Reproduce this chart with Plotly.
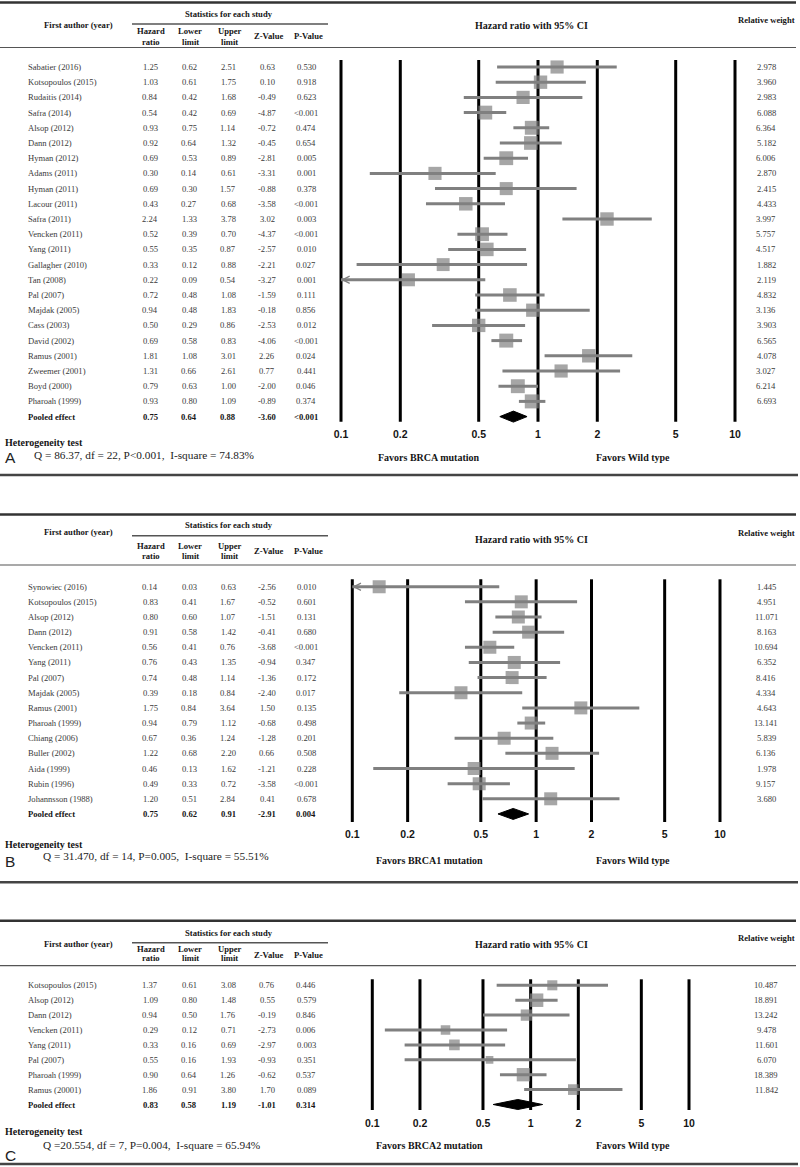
import math
import plotly.graph_objects as go

W, H = 800, 1167

# ---------------- data ----------------
tick_vals = [0.1, 0.2, 0.5, 1, 2, 5, 10]
tick_text = ["0.1", "0.2", "0.5", "1", "2", "5", "10"]

# Panel A: BRCA mutation
authors_a = ["Sabatier (2016)", "Kotsopoulos (2015)", "Rudaitis (2014)", "Safra (2014)", "Alsop (2012)",
             "Dann (2012)", "Hyman (2012)", "Adams (2011)", "Hyman (2011)", "Lacour (2011)", "Safra (2011)",
             "Vencken (2011)", "Yang (2011)", "Gallagher (2010)", "Tan (2008)", "Pal (2007)", "Majdak (2005)",
             "Cass (2003)", "David (2002)", "Ramus (2001)", "Zweemer (2001)", "Boyd (2000)", "Pharoah (1999)"]
hr_a = [1.25, 1.03, 0.84, 0.54, 0.93, 0.92, 0.69, 0.30, 0.69, 0.43, 2.24, 0.52, 0.55, 0.33, 0.22, 0.72, 0.94,
        0.50, 0.69, 1.81, 1.31, 0.79, 0.93]
lo_a = [0.62, 0.61, 0.42, 0.42, 0.75, 0.64, 0.53, 0.14, 0.30, 0.27, 1.33, 0.39, 0.35, 0.12, 0.09, 0.48, 0.48,
        0.29, 0.58, 1.08, 0.66, 0.63, 0.80]
hi_a = [2.51, 1.75, 1.68, 0.69, 1.14, 1.32, 0.89, 0.61, 1.57, 0.68, 3.78, 0.70, 0.87, 0.88, 0.54, 1.08, 1.83,
        0.86, 0.83, 3.01, 2.61, 1.00, 1.09]
z_a = ["0.63", "0.10", "-0.49", "-4.87", "-0.72", "-0.45", "-2.81", "-3.31", "-0.88", "-3.58", "3.02", "-4.37",
       "-2.57", "-2.21", "-3.27", "-1.59", "-0.18", "-2.53", "-4.06", "2.26", "0.77", "-2.00", "-0.89"]
p_a = ["0.530", "0.918", "0.623", "<0.001", "0.474", "0.654", "0.005", "0.001", "0.378", "<0.001", "0.003",
       "<0.001", "0.010", "0.027", "0.001", "0.111", "0.856", "0.012", "<0.001", "0.024", "0.441", "0.046", "0.374"]
w_a = [2.978, 3.960, 2.983, 6.088, 6.364, 5.182, 6.006, 2.870, 2.415, 4.433, 3.997, 5.757, 4.517, 1.882, 2.119,
       4.832, 3.136, 3.903, 6.565, 4.078, 3.027, 6.214, 6.693]
pooled_a = [0.75, 0.64, 0.88, "-3.60", "<0.001"]
het_a = "Q = 86.37, df = 22, P<0.001,  I-square = 74.83%"

# Panel B: BRCA1 mutation
authors_b = ["Synowiec (2016)", "Kotsopoulos (2015)", "Alsop (2012)", "Dann (2012)", "Vencken (2011)",
             "Yang (2011)", "Pal (2007)", "Majdak (2005)", "Ramus (2001)", "Pharoah (1999)", "Chiang (2006)",
             "Buller (2002)", "Aida (1999)", "Rubin (1996)", "Johannsson (1988)"]
hr_b = [0.14, 0.83, 0.80, 0.91, 0.56, 0.76, 0.74, 0.39, 1.75, 0.94, 0.67, 1.22, 0.46, 0.49, 1.20]
lo_b = [0.03, 0.41, 0.60, 0.58, 0.41, 0.43, 0.48, 0.18, 0.84, 0.79, 0.36, 0.68, 0.13, 0.33, 0.51]
hi_b = [0.63, 1.67, 1.07, 1.42, 0.76, 1.35, 1.14, 0.84, 3.64, 1.12, 1.24, 2.20, 1.62, 0.72, 2.84]
z_b = ["-2.56", "-0.52", "-1.51", "-0.41", "-3.68", "-0.94", "-1.36", "-2.40", "1.50", "-0.68", "-1.28", "0.66",
       "-1.21", "-3.58", "0.41"]
p_b = ["0.010", "0.601", "0.131", "0.680", "<0.001", "0.347", "0.172", "0.017", "0.135", "0.498", "0.201",
       "0.508", "0.228", "<0.001", "0.678"]
w_b = [1.445, 4.951, 11.071, 8.163, 10.694, 6.352, 8.416, 4.334, 4.643, 13.141, 5.839, 6.136, 1.978, 9.157, 3.680]
pooled_b = [0.75, 0.62, 0.91, "-2.91", "0.004"]
het_b = "Q = 31.470, df = 14, P=0.005,  I-square = 55.51%"

# Panel C: BRCA2 mutation
authors_c = ["Kotsopoulos (2015)", "Alsop (2012)", "Dann (2012)", "Vencken (2011)", "Yang (2011)", "Pal (2007)",
             "Pharoah (1999)", "Ramus (20001)"]
hr_c = [1.37, 1.09, 0.94, 0.29, 0.33, 0.55, 0.90, 1.86]
lo_c = [0.61, 0.80, 0.50, 0.12, 0.16, 0.16, 0.64, 0.91]
hi_c = [3.08, 1.48, 1.76, 0.71, 0.69, 1.93, 1.26, 3.80]
z_c = ["0.76", "0.55", "-0.19", "-2.73", "-2.97", "-0.93", "-0.62", "1.70"]
p_c = ["0.446", "0.579", "0.846", "0.006", "0.003", "0.351", "0.537", "0.089"]
w_c = [10.487, 18.891, 13.242, 9.478, 11.601, 6.070, 18.389, 11.842]
pooled_c = [0.83, 0.58, 1.19, "-1.01", "0.314"]
het_c = "Q =20.554, df = 7, P=0.004,  I-square = 65.94%"

# ---------------- styling / layout (pixels) ----------------
GRAY = "#808080"
SERIF = "Liberation Serif"
SANS = "Liberation Sans"
TXT = "#3a3a3a"
BOLD = "#151515"

panels = [
    dict(authors=authors_a, hr=hr_a, lo=lo_a, hi=hi_a, z=z_a, p=p_a, w=w_a, pooled=pooled_a, het=het_a,
         letter="A", favors="Favors BRCA mutation", size_mode="a",
         y0=67.0, s=15.2, x01=341.0, x10=735.0, vtop=60.0, vbot=421.7, tick_y=434.5, fav_y=457.3, dh=5.5,
         top_rule=2.5, stats_y=14.0, sub_rule=24.0, author_y=25.0, hdr1=30.7, hdr2=41.7, zhdr=36.0,
         hdr_rule=47.5, hrci_y=25.0, rw_y=20.0, het_y=443.0, q_y=454.5, q_x=31.7, letter_y=457.0,
         bot_rule=475.0),
    dict(authors=authors_b, hr=hr_b, lo=lo_b, hi=hi_b, z=z_b, p=p_b, w=w_b, pooled=pooled_b, het=het_b,
         letter="B", favors="Favors BRCA1 mutation", size_mode="b",
         y0=586.7, s=15.15, x01=352.3, x10=720.0, vtop=579.3, vbot=822.0, tick_y=835.0, fav_y=860.7, dh=5.5,
         top_rule=514.5, stats_y=525.0, sub_rule=535.7, author_y=531.7, hdr1=546.0, hdr2=556.0, zhdr=550.7,
         hdr_rule=565.0, hrci_y=539.0, rw_y=533.3, het_y=844.0, q_y=855.5, q_x=41.0, letter_y=861.0,
         bot_rule=882.3),
    dict(authors=authors_c, hr=hr_c, lo=lo_c, hi=hi_c, z=z_c, p=p_c, w=w_c, pooled=pooled_c, het=het_c,
         letter="C", favors="Favors BRCA2 mutation", size_mode="c",
         y0=985.3, s=14.9, x01=372.3, x10=689.0, vtop=979.3, vbot=1110.0, tick_y=1124.3, fav_y=1145.7, dh=5.0,
         top_rule=920.7, stats_y=932.7, sub_rule=942.7, author_y=944.0, hdr1=949.3, hdr2=957.5, zhdr=955.0,
         hdr_rule=965.7, hrci_y=944.0, rw_y=938.3, het_y=1131.7, q_y=1145.3, q_x=41.0, letter_y=1155.0,
         bot_rule=1164.0),
]

COLS = [150.0, 189.0, 228.3, 267.0, 306.0]
HDR_COLS = [150.8, 190.0, 229.5, 268.7, 308.0]
NAME_X = 26.0
RW_X = 766.0


def py(px):
    return 1 - px / H


def esc(t):
    return t.replace("<", "&lt;").replace("  ", "\u00a0 ")


fig = go.Figure()
annotations = []
shapes = []
layout_axes = {}


def hrule(y, x0, x1, width, color):
    shapes.append(dict(type="line", xref="paper", yref="paper", x0=x0 / W, x1=x1 / W, y0=py(y), y1=py(y),
                       line=dict(color=color, width=width)))


def ptext(text, x, y, size, family=SERIF, color=TXT, bold=False, xanchor="center"):
    annotations.append(dict(text=text, xref="paper", yref="paper", x=x / W, y=py(y), showarrow=False,
                            xanchor=xanchor, yanchor="middle",
                            font=dict(family=family, size=size, color=color, weight="bold" if bold else "normal")))


for k, P in enumerate(panels):
    sfx = "" if k == 0 else str(k + 1)
    xa, ya = "x" + sfx, "y" + sfx
    n = len(P["authors"])
    rows = list(range(n))
    s, y0 = P["s"], P["y0"]

    def rowy(px, y0=y0, s=s):
        return (px - y0) / s

    dec_px = (P["x10"] - P["x01"]) / 2.0
    pad = 14.0
    pad_dec = pad / dec_px
    xmin = math.log10(tick_vals[0])
    xmax = math.log10(tick_vals[-1])

    # vertical reference lines at the tick values
    vx, vy = [], []
    for t in tick_vals:
        vx += [t, t, None]
        vy += [rowy(P["vtop"]), rowy(P["vbot"]), None]
    fig.add_trace(go.Scatter(x=vx, y=vy, mode="lines", line=dict(color="black", width=3),
                             xaxis=xa, yaxis=ya, hoverinfo="skip", showlegend=False))

    # confidence intervals
    cx, cy = [], []
    for i in rows:
        cx += [max(P["lo"][i], tick_vals[0]), P["hi"][i], None]
        cy += [i, i, None]
    fig.add_trace(go.Scatter(x=cx, y=cy, mode="lines", line=dict(color=GRAY, width=3),
                             xaxis=xa, yaxis=ya, hoverinfo="skip", showlegend=False))

    # arrows for intervals that run past the axis
    for i in rows:
        if P["lo"][i] < tick_vals[0]:
            annotations.append(dict(x=xmin, y=i, xref=xa, yref=ya, text="", showarrow=True, ax=18, ay=0,
                                    axref="pixel", ayref="pixel", arrowhead=5, arrowsize=1.4, arrowwidth=1,
                                    arrowcolor=GRAY, standoff=0))

    # point estimates
    wmax = max(P["w"])
    if P["size_mode"] == "a":
        sizes = [12.5 + 1.5 * w / wmax for w in P["w"]]
    elif P["size_mode"] == "b":
        sizes = [13.0 for w in P["w"]]
    else:
        sizes = [13.5 * math.sqrt(w / wmax) for w in P["w"]]
    fig.add_trace(go.Scatter(x=P["hr"], y=rows, mode="markers",
                             marker=dict(symbol="square", size=sizes, color=GRAY, line=dict(width=0)),
                             xaxis=xa, yaxis=ya, hoverinfo="skip", showlegend=False))

    # pooled diamond
    ph, pl, pu = P["pooled"][0], P["pooled"][1], P["pooled"][2]
    hh = P["dh"] / s
    fig.add_trace(go.Scatter(x=[pl, ph, pu, ph, pl], y=[n, n - hh, n, n + hh, n], mode="lines",
                             fill="toself", fillcolor="black", line=dict(color="black", width=1),
                             xaxis=xa, yaxis=ya, hoverinfo="skip", showlegend=False))

    # axes
    axis_px = P["tick_y"] - 8.5
    layout_axes["xaxis" + sfx] = dict(
        type="log", domain=[(P["x01"] - pad) / W, (P["x10"] + pad) / W],
        range=[xmin - pad_dec, xmax + pad_dec], anchor="free", position=py(axis_px),
        showgrid=False, zeroline=False, showline=False, ticks="", tickvals=tick_vals, ticktext=tick_text,
        tickfont=dict(family=SANS, size=10.5, color=BOLD, weight="bold"), fixedrange=True)
    layout_axes["yaxis" + sfx] = dict(domain=[0, 1], range=[(H - y0) / s, (0 - y0) / s], visible=False,
                                      anchor=xa, fixedrange=True)

    # table rows
    for i in rows:
        vals = ["%.2f" % P["hr"][i], "%.2f" % P["lo"][i], "%.2f" % P["hi"][i], P["z"][i], P["p"][i]]
        annotations.append(dict(text=P["authors"][i], xref="paper", yref=ya, x=NAME_X / W, y=i, showarrow=False,
                                xanchor="left", yanchor="middle", font=dict(family=SERIF, size=8.6, color=TXT)))
        for cxp, v in zip(COLS, vals):
            annotations.append(dict(text=esc(v), xref="paper", yref=ya, x=cxp / W, y=i, showarrow=False,
                                    xanchor="center", yanchor="middle",
                                    font=dict(family=SERIF, size=8.6, color=TXT)))
        annotations.append(dict(text="%.3f" % P["w"][i], xref="paper", yref=ya, x=RW_X / W, y=i, showarrow=False,
                                xanchor="center", yanchor="middle", font=dict(family=SERIF, size=8.6, color=TXT)))
    # pooled row
    pvals = ["%.2f" % P["pooled"][0], "%.2f" % P["pooled"][1], "%.2f" % P["pooled"][2], P["pooled"][3],
             P["pooled"][4]]
    annotations.append(dict(text="Pooled effect", xref="paper", yref=ya, x=NAME_X / W, y=n, showarrow=False,
                            xanchor="left", yanchor="middle",
                            font=dict(family=SERIF, size=8.6, color=BOLD, weight="bold")))
    for cxp, v in zip(COLS, pvals):
        annotations.append(dict(text=esc(v), xref="paper", yref=ya, x=cxp / W, y=n, showarrow=False,
                                xanchor="center", yanchor="middle",
                                font=dict(family=SERIF, size=8.6, color=BOLD, weight="bold")))

    # headers
    ptext("Statistics for each study", 229.0, P["stats_y"], 8.6, bold=True, color=BOLD)
    ptext("First author (year)", 78.0, P["author_y"], 8.6, bold=True, color=BOLD)
    ptext("Hazard", HDR_COLS[0], P["hdr1"], 8.6, bold=True, color=BOLD)
    ptext("ratio", HDR_COLS[0], P["hdr2"], 8.6, bold=True, color=BOLD)
    ptext("Lower", HDR_COLS[1], P["hdr1"], 8.6, bold=True, color=BOLD)
    ptext("limit", HDR_COLS[1], P["hdr2"], 8.6, bold=True, color=BOLD)
    ptext("Upper", HDR_COLS[2], P["hdr1"], 8.6, bold=True, color=BOLD)
    ptext("limit", HDR_COLS[2], P["hdr2"], 8.6, bold=True, color=BOLD)
    ptext("Z-Value", HDR_COLS[3], P["zhdr"], 8.6, bold=True, color=BOLD)
    ptext("P-Value", HDR_COLS[4], P["zhdr"], 8.6, bold=True, color=BOLD)
    ptext("Hazard ratio with 95% CI", 531.0, P["hrci_y"], 10, bold=True, color=BOLD)
    ptext("Relative weight", 766.5, P["rw_y"], 8.6, bold=True, color=BOLD)

    # favors labels
    ptext(P["favors"], 429.0, P["fav_y"], 10, bold=True, color=BOLD)
    ptext("Favors Wild type", 633.0, P["fav_y"], 10, bold=True, color=BOLD)

    # heterogeneity
    ptext("Heterogeneity test", 3.0, P["het_y"], 10, bold=True, color=BOLD, xanchor="left")
    ptext(esc(P["het"]), P["q_x"], P["q_y"], 11.3, color="#222222", xanchor="left")
    ptext(P["letter"], 2.5, P["letter_y"], 15.5, family=SANS, color="#222222", xanchor="left")

    # rules
    hrule(P["top_rule"], 0, 796, 2.5, "#333333")
    hrule(P["sub_rule"], 132, 328, 1.5, "#555555")
    hrule(P["hdr_rule"], 0, 796, 1.2, "#555555")
    hrule(P["bot_rule"], 0, 798, 2.5, "#444444")

fig.update_layout(
    width=W, height=H, margin=dict(l=0, r=0, t=0, b=0),
    paper_bgcolor="white", plot_bgcolor="rgba(0,0,0,0)",
    showlegend=False, annotations=annotations, shapes=shapes,
    **layout_axes,
)

fig.write_html("out.html", config={"displayModeBar": False},
               post_script="document.body.style.margin='0';document.body.style.overflow='hidden';")
